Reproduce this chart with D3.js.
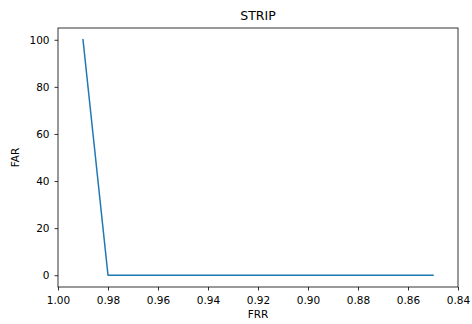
<!DOCTYPE html>
<html lang="en">
<head>
<meta charset="utf-8">
<title>STRIP</title>
<style>
  * { margin: 0; padding: 0; }
  body { background: #fff; width: 472px; height: 324px; overflow: hidden; }
  svg { display: block; font-family: "DejaVu Sans", sans-serif; }
  .tick text { font-family: "DejaVu Sans", sans-serif; font-size: 10.5px; fill: #000; }
  .tick line { stroke: #000; stroke-width: 0.8; }
</style>
</head>
<body>
<svg id="chart" width="472" height="324"></svg>
<script src="https://d3js.org/d3.v7.min.js"></script>
<script>
// data
const frr = [0.99, 0.98, 0.97, 0.96, 0.95, 0.94, 0.93, 0.92, 0.91, 0.90, 0.89, 0.88, 0.87, 0.86, 0.85];
const far = [100, 0, 0, 0, 0, 0, 0, 0, 0, 0, 0, 0, 0, 0, 0];
const xTicks = [1.00, 0.98, 0.96, 0.94, 0.92, 0.90, 0.88, 0.86, 0.84];
const yTicks = [0, 20, 40, 60, 80, 100];

const m = { left: 58, right: 458, top: 28, bottom: 287 };

const svg = d3.select("#chart");

const x = d3.scaleLinear().domain([1.00, 0.84]).range([m.left, m.right]);
const y = d3.scaleLinear().domain([-5, 105]).range([m.bottom, m.top]);

// axes
const xAxis = svg.append("g")
  .attr("transform", `translate(0,${m.bottom})`)
  .call(d3.axisBottom(x).tickValues(xTicks).tickFormat(d3.format(".2f")).tickSize(3.5).tickPadding(6));
const yAxis = svg.append("g")
  .attr("transform", `translate(${m.left},0)`)
  .call(d3.axisLeft(y).tickValues(yTicks).tickFormat(d3.format("d")).tickSize(3.5).tickPadding(5));
xAxis.attr("font-family", null).attr("font-size", null).select(".domain").remove();
yAxis.attr("font-family", null).attr("font-size", null).select(".domain").remove();

// the line
const points = frr.map((f, i) => [f, far[i]]);
svg.append("path")
  .datum(points)
  .attr("fill", "none")
  .attr("stroke", "#1f77b4")
  .attr("stroke-width", 1.5)
  .attr("stroke-linejoin", "round")
  .attr("stroke-linecap", "square")
  .attr("d", d3.line().x(d => x(d[0])).y(d => y(d[1])));

// frame
svg.append("rect")
  .attr("x", m.left).attr("y", m.top)
  .attr("width", m.right - m.left).attr("height", m.bottom - m.top)
  .attr("fill", "none").attr("stroke", "#000").attr("stroke-width", 0.8);

// labels
svg.append("text")
  .attr("x", (m.left + m.right) / 2).attr("y", m.top - 8)
  .attr("text-anchor", "middle").attr("font-size", 12.5)
  .text("STRIP");
svg.append("text")
  .attr("x", (m.left + m.right) / 2).attr("y", 318)
  .attr("text-anchor", "middle").attr("font-size", 10.5)
  .text("FRR");
svg.append("text")
  .attr("transform", `translate(19,${(m.top + m.bottom) / 2}) rotate(-90)`)
  .attr("text-anchor", "middle").attr("font-size", 10.5)
  .text("FAR");
</script>
</body>
</html>
